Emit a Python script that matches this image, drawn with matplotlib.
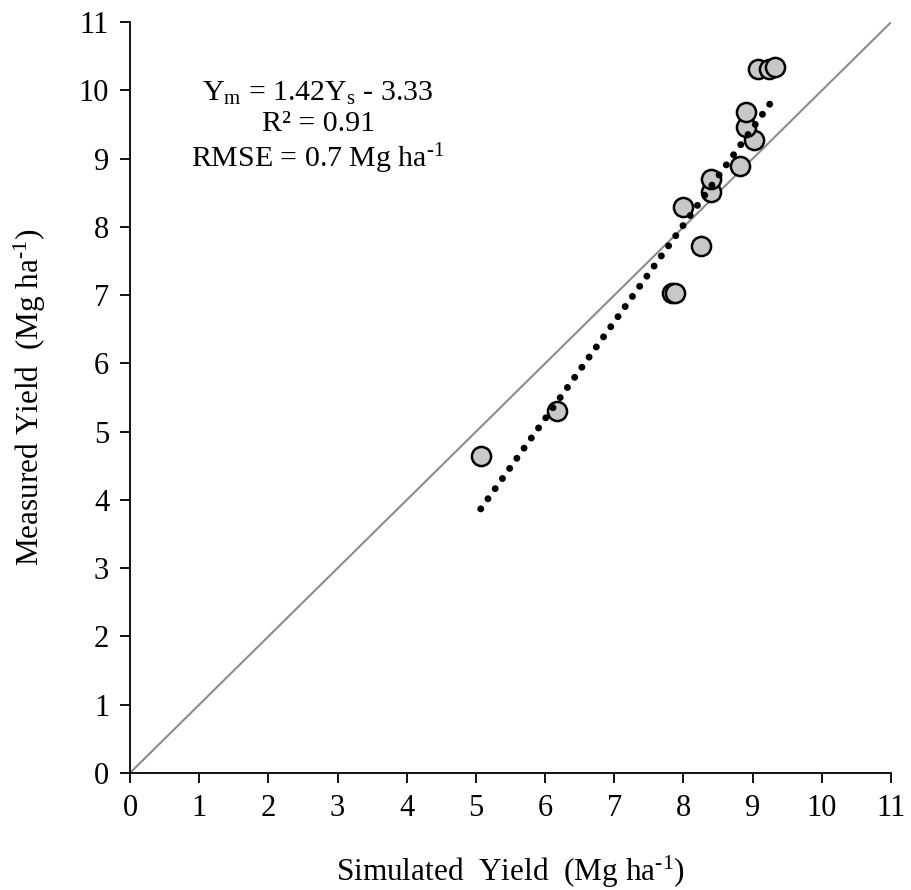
import matplotlib
matplotlib.use("Agg")
import matplotlib.pyplot as plt
import numpy as np

plt.rcParams['font.family'] = ['Liberation Serif', 'DejaVu Serif']
plt.rcParams['mathtext.fontset'] = 'custom'
plt.rcParams['mathtext.rm'] = 'Liberation Serif'
plt.rcParams['mathtext.it'] = 'Liberation Serif:italic'

# simulated vs measured yield (Mg/ha)
simulated = [5.07, 6.17, 7.83, 7.88, 8.25, 8.00, 8.40, 8.40, 8.82, 9.02, 8.90, 8.90, 9.08, 9.24, 9.32]
measured = [4.64, 5.31, 7.04, 7.04, 7.72, 8.29, 8.52, 8.71, 8.89, 9.28, 9.46, 9.68, 10.32, 10.31, 10.34]

# regression from the figure: Ym = 1.42 Ys - 3.33
slope = 1.42
intercept = -3.33
fit_x = np.array([5.07, 9.27])

fig = plt.figure(figsize=(9.12, 8.9), dpi=100)
ax = fig.add_axes([0.1425, 0.1315, 0.8345, 0.8435])

# 1:1 line
ax.plot([0, 11], [0, 11], color='#8c8c8c', lw=1.5, zorder=1)

# trend line (round dots)
ax.plot(fit_x, slope * fit_x + intercept, color='black', lw=5,
        linestyle=(0, (0.01, 1.78)), dash_capstyle='round', zorder=3)

ax.scatter(simulated, measured, s=190, facecolor='#c8c8c8', edgecolor='black',
           linewidth=1.8, zorder=2)

ax.set_xlim(0, 11)
ax.set_ylim(0, 11)
ax.set_xticks(range(0, 12))
ax.set_yticks(range(0, 12))
ax.tick_params(direction='out', length=7, width=1.3, labelsize=22, pad=8)
for s in ['top', 'right']:
    ax.spines[s].set_visible(False)
for s in ['left', 'bottom']:
    ax.spines[s].set_linewidth(1.3)

ax.set_xlabel('Simulated  Yield  (Mg ha$^{\\text{-1}}$)', fontsize=22.5, labelpad=22)
ax.set_ylabel('Measured Yield  (Mg ha$^{\\text{-1}}$)', fontsize=22.5, labelpad=22)

ax.text(2.72, 9.45, 'Y$_\\mathrm{m}$ = 1.42Y$_\\mathrm{s}$ - 3.33\nR² = 0.91\nRMSE = 0.7 Mg ha$^{\\text{-1}}$',
        ha='center', va='center', fontsize=21.5, linespacing=1.2)

fig.savefig('out.png', dpi=100)
